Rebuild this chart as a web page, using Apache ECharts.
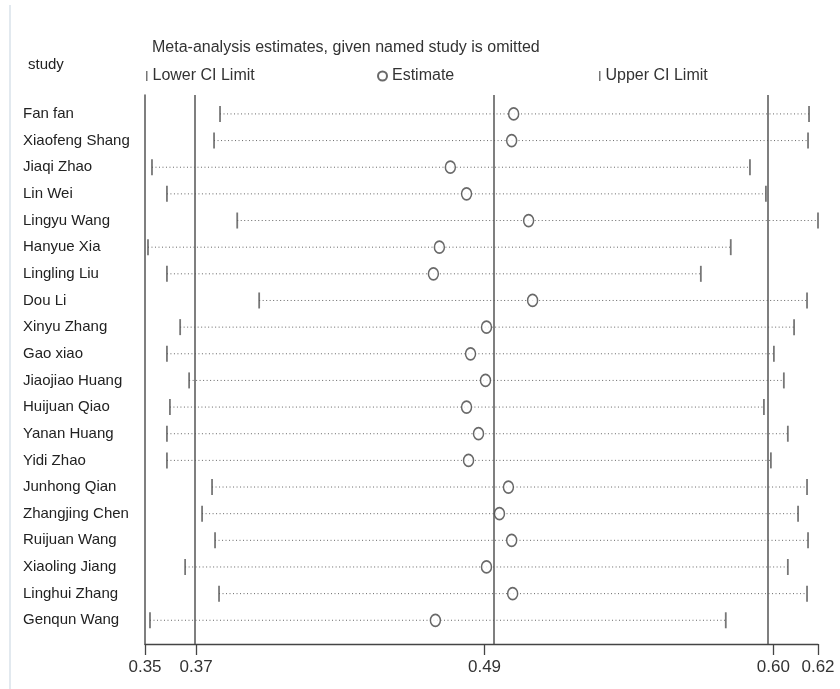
<!DOCTYPE html>
<html>
<head>
<meta charset="utf-8">
<script src="https://cdn.jsdelivr.net/npm/echarts@6/dist/echarts.min.js"></script>
<style>html,body{margin:0;padding:0;background:#fff;}#chart{width:840px;height:689px;}</style>
</head>
<body>
<div id="chart"></div>
<script>
const studies = ["Fan fan","Xiaofeng Shang","Jiaqi Zhao","Lin Wei","Lingyu Wang","Hanyue Xia","Lingling Liu","Dou Li","Xinyu Zhang","Gao xiao","Jiaojiao Huang","Huijuan Qiao","Yanan Huang","Yidi Zhao","Junhong Qian","Zhangjing Chen","Ruijuan Wang","Xiaoling Jiang","Linghui Zhang","Genqun Wang"];
const lowerCI = [0.3801,0.3777,0.3528,0.3588,0.3870,0.3512,0.3588,0.3958,0.3641,0.3588,0.3677,0.3600,0.3588,0.3588,0.3769,0.3729,0.3781,0.3661,0.3797,0.3520];
const estimate = [0.4979,0.4971,0.4725,0.4790,0.5039,0.4681,0.4657,0.5055,0.4870,0.4806,0.4866,0.4790,0.4838,0.4798,0.4958,0.4922,0.4971,0.4870,0.4975,0.4665];
const upperCI = [0.6164,0.6160,0.5927,0.5991,0.6200,0.5850,0.5730,0.6156,0.6104,0.6023,0.6063,0.5983,0.6079,0.6011,0.6156,0.6120,0.6160,0.6079,0.6156,0.5830];
// overall pooled: lower CI, estimate, upper CI
const overall = [0.3705, 0.4862, 0.6021];
const axisRange = [0.35, 0.62];
const xTickValues = [axisRange[0], overall[0], overall[1], overall[2], axisRange[1]];

const chart = echarts.init(document.getElementById('chart'));
const narrow = '"Liberation Sans Narrow", "Arial Narrow", "Liberation Sans", Arial, sans-serif';
const sans = '"Liberation Sans", Arial, sans-serif';
const idx = studies.map((s, i) => i);

const option = {
  animation: false,
  backgroundColor: '#fff',
  title: [
    { text: 'Meta-analysis estimates, given named study is omitted', left: 147, top: 35,
      textStyle: { fontFamily: narrow, fontSize: 16, fontWeight: 'normal', color: '#333' } },
    { text: 'study', left: 23, top: 52,
      textStyle: { fontFamily: sans, fontSize: 15, fontWeight: 'normal', color: '#222' } }
  ],
  legend: [
    { data: ['Lower CI Limit'], left: 141, top: 63, icon: 'rect', itemWidth: 1.5, itemHeight: 10,
      textStyle: { fontFamily: narrow, fontSize: 16, color: '#333' } },
    { data: ['Estimate'], left: 372, top: 63, icon: 'circle', itemWidth: 9, itemHeight: 10,
      textStyle: { fontFamily: narrow, fontSize: 16, color: '#333' } },
    { data: ['Upper CI Limit'], left: 594, top: 63, icon: 'rect', itemWidth: 1.5, itemHeight: 10,
      textStyle: { fontFamily: narrow, fontSize: 16, color: '#333' } }
  ],
  graphic: [
    { type: 'line', shape: { x1: 10, y1: 5, x2: 10, y2: 689 }, style: { stroke: '#e2e9ef', lineWidth: 2 } }
  ],
  grid: { left: 145, right: 22, top: 95, bottom: 45 },
  xAxis: {
    type: 'value', min: axisRange[0], max: axisRange[1],
    splitLine: { show: false },
    axisLine: { onZero: false, lineStyle: { color: '#444', width: 1.3 } },
    axisTick: { customValues: xTickValues, length: 11, lineStyle: { color: '#444', width: 1.3 } },
    axisLabel: { customValues: xTickValues, margin: 15, fontFamily: narrow, fontSize: 17, color: '#333',
      formatter: v => v.toFixed(2) }
  },
  yAxis: {
    type: 'value', inverse: true, min: -0.71, max: 19.89,
    splitLine: { show: false },
    axisLine: { show: true, onZero: false, lineStyle: { color: '#555', width: 1.5 } },
    axisTick: { show: false },
    axisLabel: { customValues: idx, align: 'left', margin: 122, fontFamily: sans, fontSize: 15, color: '#222',
      formatter: v => studies[Math.round(v)] }
  },
  series: [
    {
      type: 'custom', name: 'CI',
      silent: true,
      data: idx.map(i => [lowerCI[i], upperCI[i], i]),
      renderItem: (params, api) => {
        const p1 = api.coord([api.value(0), api.value(2)]);
        const p2 = api.coord([api.value(1), api.value(2)]);
        return { type: 'line', shape: { x1: p1[0], y1: p1[1], x2: p2[0], y2: p2[1] },
          style: { stroke: '#666', lineWidth: 1, lineDash: [1, 2.5] } };
      },
      z: 1
    },
    {
      type: 'scatter', name: 'Lower CI Limit', symbol: 'rect', symbolSize: [1.8, 16],
      data: idx.map(i => [lowerCI[i], i]),
      itemStyle: { color: '#555' }, z: 3
    },
    {
      type: 'scatter', name: 'Upper CI Limit', symbol: 'rect', symbolSize: [1.8, 16],
      data: idx.map(i => [upperCI[i], i]),
      itemStyle: { color: '#555' }, z: 3
    },
    {
      type: 'scatter', name: 'Estimate', symbol: 'circle', symbolSize: [10, 12],
      data: idx.map(i => [estimate[i], i]),
      itemStyle: { color: '#fff', borderColor: '#444', borderWidth: 1.6 },
      z: 4,
      markLine: {
        silent: true, symbol: ['none', 'none'], label: { show: false },
        lineStyle: { type: 'solid', color: '#555', width: 1.5 },
        data: overall.map(v => ({ xAxis: v }))
      }
    }
  ]
};
chart.setOption(option);
</script>
</body>
</html>
